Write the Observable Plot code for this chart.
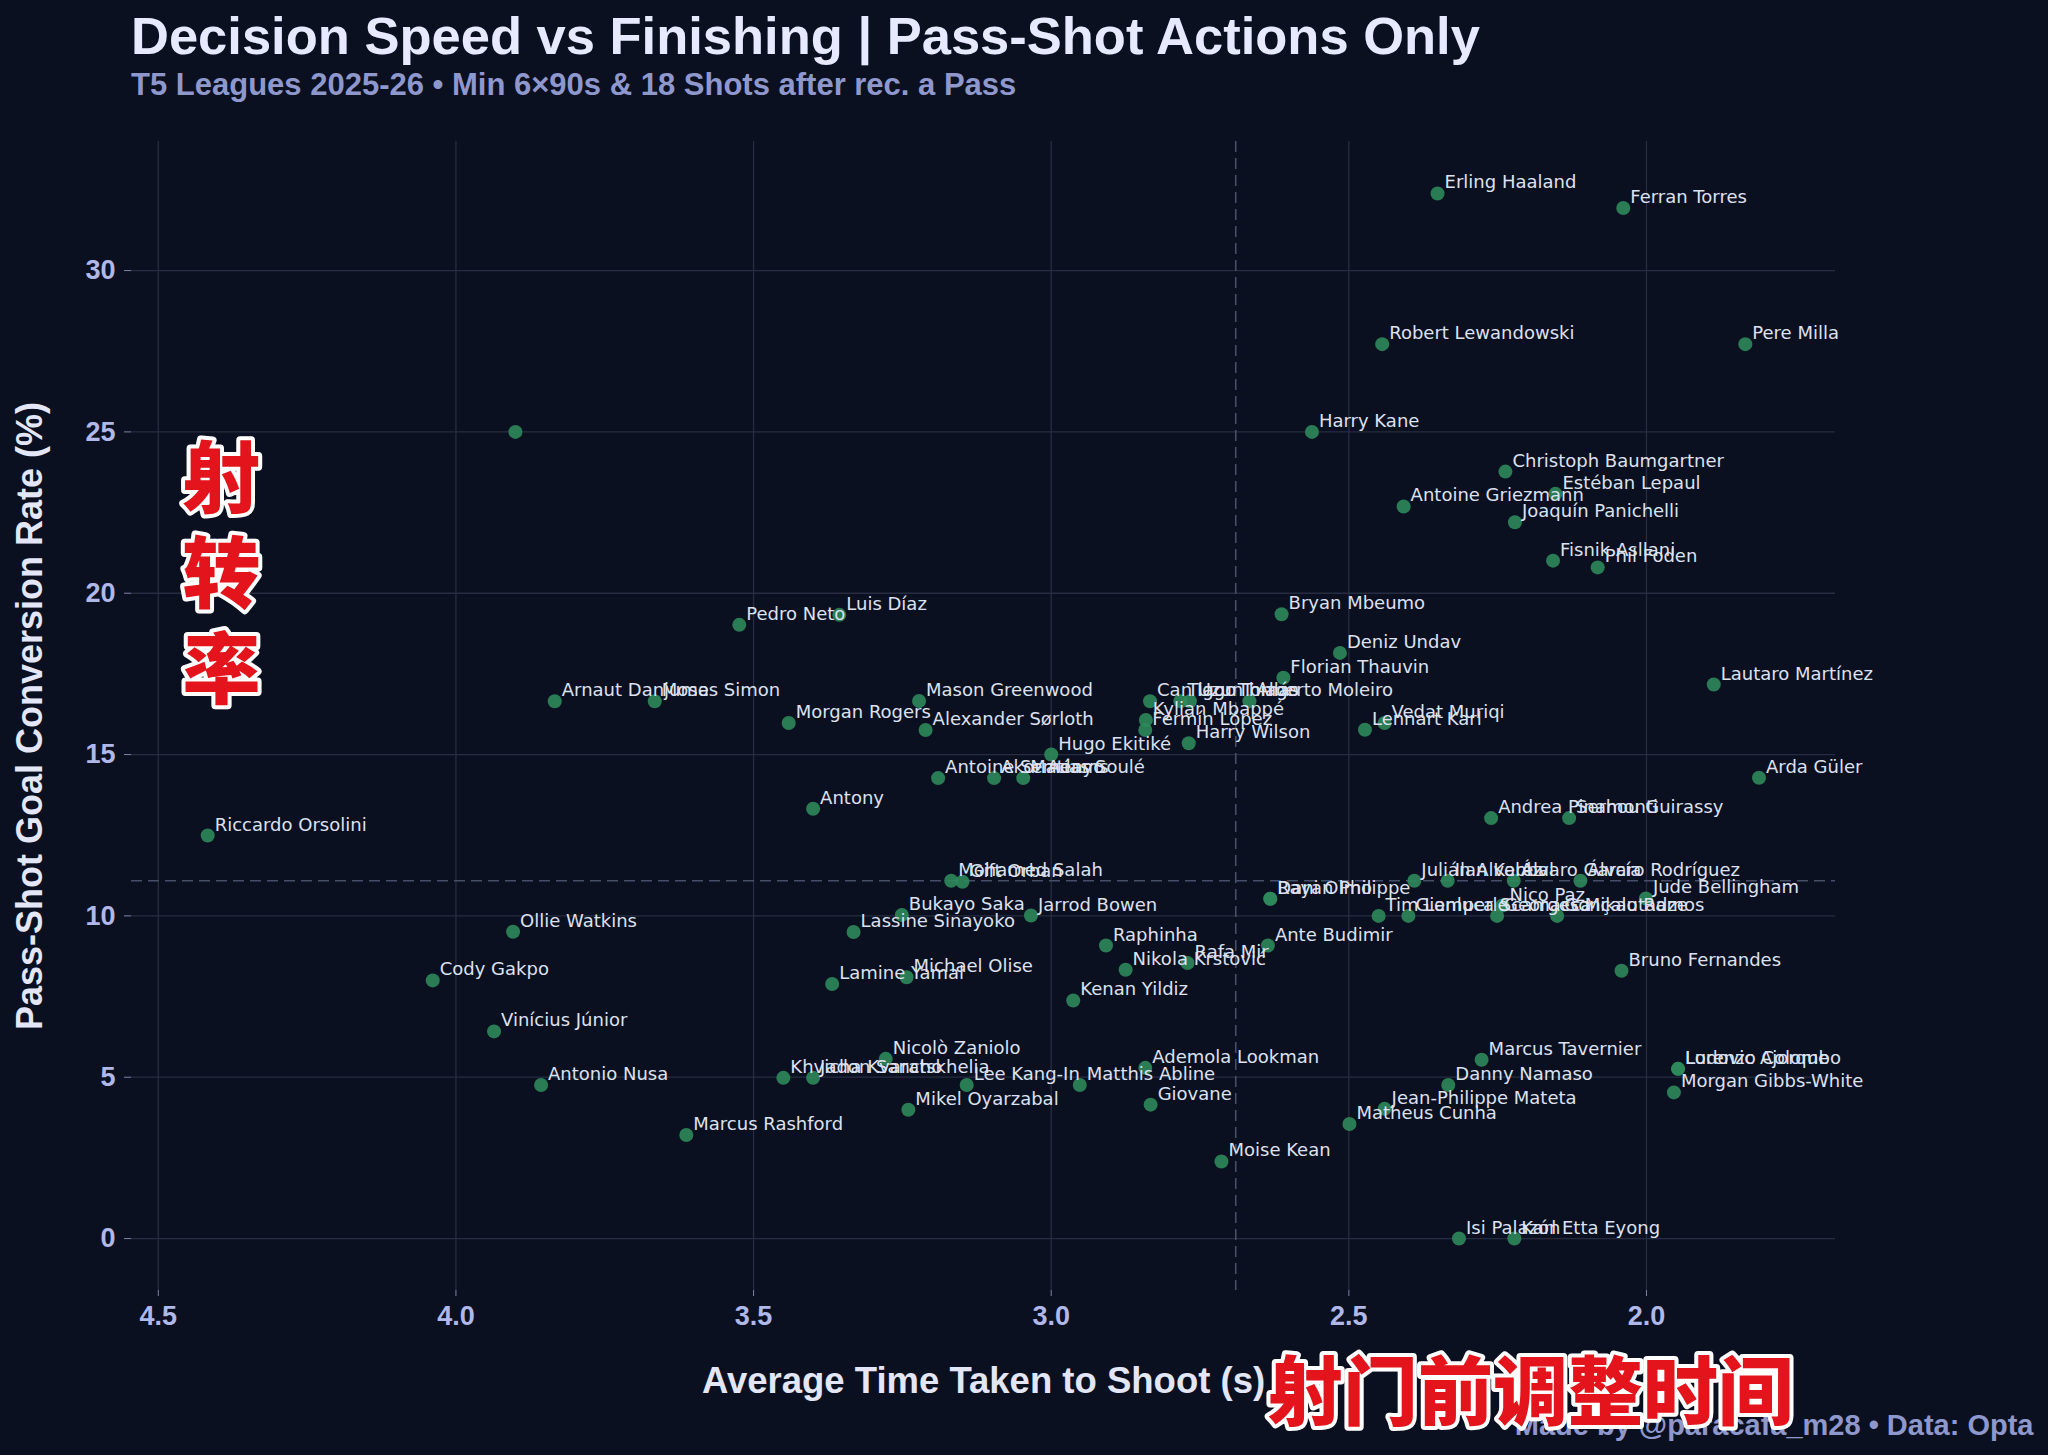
<!DOCTYPE html>
<html>
<head>
<meta charset="utf-8">
<script src="https://cdn.jsdelivr.net/npm/d3@7"></script>
<script src="https://cdn.jsdelivr.net/npm/@observablehq/plot@0.6"></script>
<style>
  html, body { margin: 0; padding: 0; background: #0b1020; }
  #wrap { position: relative; width: 2048px; height: 1455px; overflow: hidden; background: #0b1020; }
  #title { position: absolute; left: 131px; top: 9.5px; font: bold 52.5px/52.5px "Liberation Sans", Arial, sans-serif; color: #e6e9ff; white-space: nowrap; }
  #subtitle { position: absolute; left: 131px; top: 69px; font: bold 31px/31px "Liberation Sans", Arial, sans-serif; color: #8f98cc; white-space: nowrap; }
  #chart { position: absolute; left: 0; top: 110px; }
</style>
</head>
<body>
<div id="wrap">
  <div id="title">Decision Speed vs Finishing | Pass-Shot Actions Only</div>
  <div id="subtitle">T5 Leagues 2025-26 • Min 6×90s &amp; 18 Shots after rec. a Pass</div>
  <div id="chart"></div>
</div>
<script>
// ---- data ----
const names = [
  "Erling Haaland", "Ferran Torres", "Robert Lewandowski", "Pere Milla", "Harry Kane", "",
  "Christoph Baumgartner", "Estéban Lepaul", "Antoine Griezmann", "Joaquín Panichelli",
  "Fisnik Asllani", "Phil Foden", "Pedro Neto", "Luis Díaz", "Bryan Mbeumo", "Deniz Undav",
  "Florian Thauvin", "Lautaro Martínez", "Arnaut Danjuma", "Moses Simon", "Mason Greenwood",
  "Can Uzun", "Tiago Tomás", "Igor Thiago", "Alberto Moleiro", "Morgan Rogers",
  "Alexander Sørloth", "Kylian Mbappé", "Fermín López", "Vedat Muriqi", "Lennart Karl",
  "Harry Wilson", "Hugo Ekitiké", "Antoine Semenyo", "Akor Adams", "Matías Soulé",
  "Arda Güler", "Antony", "Andrea Pinamonti", "Serhou Guirassy", "Riccardo Orsolini",
  "Mohamed Salah", "Gift Orban", "Julián Alvarez", "Ilan Kebbal", "Álvaro García",
  "Álvaro Rodríguez", "Jude Bellingham", "Rayan Philippe", "Dani Olmo", "Nico Paz",
  "Bukayo Saka", "Jarrod Bowen", "Tim Lemperle", "Gianluca Scamacca", "Georges Mikautadze",
  "Gonçalo Ramos", "Ollie Watkins", "Lassine Sinayoko", "Raphinha", "Ante Budimir",
  "Rafa Mir", "Nikola Krstović", "Bruno Fernandes", "Cody Gakpo", "Lamine Yamal",
  "Michael Olise", "Kenan Yildiz", "Vinícius Júnior", "Nicolò Zaniolo", "Ademola Lookman",
  "Marcus Tavernier", "Khvicha Kvaratskhelia", "Jadon Sancho", "Antonio Nusa", "Lee Kang-In",
  "Matthis Abline", "Danny Namaso", "Lorenzo Colombo", "Ludovic Ajorque", "Morgan Gibbs-White",
  "Giovane", "Mikel Oyarzabal", "Jean-Philippe Mateta", "Matheus Cunha", "Marcus Rashford",
  "Moise Kean", "Isi Palazón", "Karl Etta Eyong"
];
const times = [
  2.351, 2.039, 2.444, 1.834, 2.562, 3.900,
  2.237, 2.153, 2.408, 2.221,
  2.157, 2.082, 3.524, 3.356, 2.613, 2.515,
  2.610, 1.887, 3.834, 3.666, 3.222,
  2.834, 2.783, 2.767, 2.667, 3.441,
  3.211, 2.841, 2.842, 2.440, 2.473,
  2.769, 3.000, 3.190, 3.096, 3.047,
  1.811, 3.400, 2.261, 2.130, 4.417,
  3.168, 3.149, 2.390, 2.334, 2.223,
  2.111, 2.001, 2.632, 2.632, 2.242,
  3.251, 3.034, 2.450, 2.400, 2.251,
  2.150, 3.904, 3.332, 2.908, 2.636,
  2.771, 2.875, 2.042, 4.039, 3.368,
  3.243, 2.963, 3.936, 3.278, 2.842,
  2.277, 3.450, 3.400, 3.857, 3.142,
  2.952, 2.333, 1.947, 1.947, 1.954,
  2.833, 3.240, 2.440, 2.499, 3.613,
  2.714, 2.315, 2.222
];
const rates = [
  32.39, 31.94, 27.72, 27.72, 25.00, 25.00,
  23.77, 23.08, 22.69, 22.20,
  21.01, 20.80, 19.02, 19.33, 19.35, 18.15,
  17.38, 17.17, 16.65, 16.65, 16.66,
  16.65, 16.65, 16.65, 16.65, 15.98,
  15.76, 16.07, 15.76, 15.98, 15.77,
  15.35, 15.00, 14.27, 14.27, 14.27,
  14.28, 13.32, 13.03, 13.03, 12.49,
  11.09, 11.06, 11.09, 11.09, 11.09,
  11.09, 10.54, 10.53, 10.53, 10.32,
  10.03, 10.01, 10.00, 10.00, 10.00,
  10.00, 9.51, 9.50, 9.08, 9.08,
  8.54, 8.33, 8.30, 8.00, 7.89,
  8.10, 7.38, 6.42, 5.57, 5.29,
  5.54, 4.98, 4.98, 4.76, 4.76,
  4.76, 4.76, 5.26, 5.26, 4.53,
  4.15, 3.99, 4.02, 3.55, 3.21,
  2.39, 0.00, 0.00
];
const xTicks = [4.5, 4.0, 3.5, 3.0, 2.5, 2.0];
const yTicks = [0, 5, 10, 15, 20, 25, 30];
const avgTime = 2.69;
const avgRate = 11.09;
const xDomain = [4.545, 1.6825];
const yDomain = [-1.61, 34.0];
const xLabel = "Average Time Taken to Shoot (s)";
const yLabel = "Pass-Shot Goal Conversion Rate (%)";
const credit = "Made by @paracafa_m28 • Data: Opta";
const yNote = "射\n转\n率";
const xNote = "射门前调整时间";

const data = names.map((n, i) => ({name: n, time: times[i], rate: rates[i]}));

// ---- styles ----
const gridColor = "#272d41";
const dashColor = "#474e68";
const tickColor = "#7d84a8";
const tickText = "#b0b8ea";
const labelColor = "#dde1f0";
const axisLabelColor = "#e3e6f7";
const dotColor = "#2f8b5b";
const red = "#e3141b";
const sans = "'Liberation Sans', Arial, sans-serif";
const cjk = "'Noto Sans CJK SC', sans-serif";

const chart = Plot.plot({
  width: 2048,
  height: 1345,
  marginLeft: 131,
  marginRight: 213,
  marginTop: 31,
  marginBottom: 165,
  style: {background: "transparent", fontFamily: "'DejaVu Sans', sans-serif", fontSize: "18px", overflow: "visible"},
  x: {domain: xDomain},
  y: {domain: yDomain},
  marks: [
    Plot.gridX(xTicks, {stroke: gridColor, strokeOpacity: 1, strokeWidth: 1.3}),
    Plot.gridY(yTicks, {stroke: gridColor, strokeOpacity: 1, strokeWidth: 1.3}),
    Plot.ruleX([avgTime], {stroke: dashColor, strokeWidth: 1.6, strokeDasharray: "11,6"}),
    Plot.ruleY([avgRate], {stroke: dashColor, strokeWidth: 1.6, strokeDasharray: "11,6"}),
    Plot.axisX(xTicks, {tickSize: 6, tickPadding: 9, tickFormat: d3.format(".1f"), fontSize: 27, fontWeight: "bold", fontFamily: sans, fill: tickText, stroke: tickColor, label: null}),
    Plot.axisY(yTicks, {tickSize: 7, tickPadding: 9, fontSize: 27, fontWeight: "bold", fontFamily: sans, fill: tickText, stroke: tickColor, label: null}),
    Plot.dot(data, {x: "time", y: "rate", r: 7, fill: dotColor, fillOpacity: 0.88}),
    Plot.text(data, {x: "time", y: "rate", text: "name", textAnchor: "start", lineAnchor: "bottom", dx: 7, dy: -5, fontSize: 18, fill: labelColor}),
    Plot.text([xLabel], {frameAnchor: "bottom", text: d => d, textAnchor: "middle", dy: 102, lineAnchor: "bottom", fontSize: 36.5, fontWeight: "bold", fontFamily: sans, fill: axisLabelColor}),
    Plot.text([yLabel], {frameAnchor: "left", text: d => d, textAnchor: "middle", rotate: -90, dx: -90, lineAnchor: "bottom", fontSize: 36, fontWeight: "bold", fontFamily: sans, fill: axisLabelColor}),
    Plot.text([credit], {frameAnchor: "bottom-right", text: d => d, dx: 198, dy: 144, textAnchor: "end", lineAnchor: "bottom", fontSize: 29, fontWeight: "bold", fontFamily: sans, fill: "#8f98cc"}),
    Plot.text([yNote], {frameAnchor: "left", text: d => d, textAnchor: "middle", dx: 90, dy: -144, lineAnchor: "middle", lineHeight: 1.22, fontSize: 78, fontWeight: 900, fontFamily: cjk, fill: red, stroke: "white", strokeWidth: 8, paintOrder: "stroke"}),
    Plot.text([xNote], {frameAnchor: "bottom", text: d => d, textAnchor: "middle", dx: 547, dy: 104, lineAnchor: "middle", fontSize: 75, fontWeight: 900, fontFamily: cjk, fill: red, stroke: "white", strokeWidth: 8, paintOrder: "stroke"})
  ]
});
document.getElementById("chart").appendChild(chart);
</script>
</body>
</html>
